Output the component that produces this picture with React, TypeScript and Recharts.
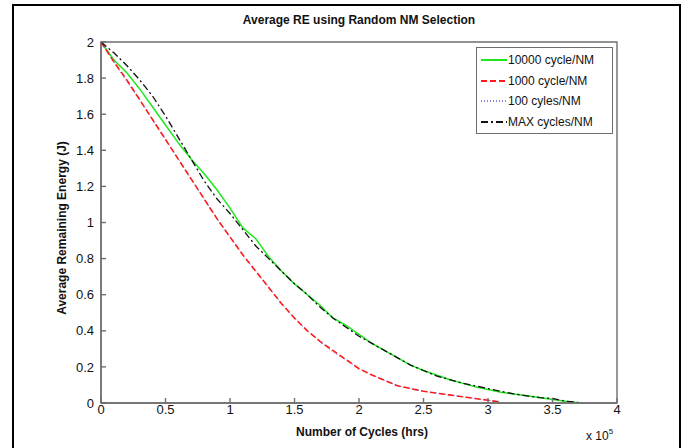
import { LineChart, Line, XAxis, YAxis, Legend, ReferenceArea } from 'recharts';

// cycles in units of 1e5
const cycles = [
  0, 0.1, 0.2, 0.3, 0.4, 0.5, 0.6, 0.7, 0.8, 0.9, 1.0, 1.1, 1.2, 1.3, 1.4, 1.5, 1.6, 1.7, 1.8, 1.9,
  2.0, 2.1, 2.2, 2.3, 2.4, 2.5, 2.6, 2.7, 2.8, 2.9, 3.0, 3.1, 3.2, 3.3, 3.4, 3.5, 3.6, 3.7,
];

const re10000 = [
  2.0, 1.9, 1.83, 1.74, 1.64, 1.54, 1.44, 1.35, 1.27, 1.18, 1.08, 0.97, 0.91, 0.81, 0.73, 0.66, 0.6, 0.54, 0.47, 0.43,
  0.38, 0.33, 0.29, 0.25, 0.21, 0.18, 0.155, 0.13, 0.11, 0.09, 0.075, 0.06, 0.05, 0.04, 0.03, 0.02, 0.01, 0.002,
];

const re1000 = [
  2.0, 1.89, 1.79, 1.68, 1.57, 1.46, 1.35, 1.24, 1.13, 1.02, 0.92, 0.82, 0.73, 0.64, 0.55, 0.47, 0.4, 0.34, 0.29, 0.24,
  0.19, 0.155, 0.125, 0.095, 0.08, 0.065, 0.055, 0.045, 0.035, 0.025, 0.015, 0.005,
];

const re100 = [
  2.0, 1.89, 1.78, 1.68, 1.57, 1.46, 1.35, 1.24, 1.13, 1.02, 0.92, 0.82, 0.73, 0.64, 0.55, 0.47, 0.4, 0.34, 0.28, 0.24,
  0.19, 0.155, 0.125, 0.095, 0.08, 0.065, 0.055, 0.045, 0.035, 0.025, 0.015, 0.005,
];

const reMax = [
  2.0, 1.94, 1.87, 1.79, 1.7, 1.59, 1.47, 1.35, 1.23, 1.13, 1.05, 0.96, 0.87, 0.8, 0.73, 0.66, 0.6, 0.53, 0.47, 0.42,
  0.37, 0.33, 0.29, 0.25, 0.21, 0.18, 0.15, 0.13, 0.11, 0.095, 0.08, 0.065, 0.05, 0.04, 0.03, 0.025, 0.01, 0.003,
];

const xTicks = [0, 0.5, 1, 1.5, 2, 2.5, 3, 3.5, 4];
const yTicks = [0, 0.2, 0.4, 0.6, 0.8, 1, 1.2, 1.4, 1.6, 1.8, 2];

const series = [
  { key: 'g', name: '10000 cycle/NM', color: '#1fe81f', dash: undefined, width: 1.5 },
  { key: 'r', name: '1000 cycle/NM', color: '#ff1a1a', dash: '6 3', width: 1.6 },
  { key: 'b', name: '100 cyles/NM', color: '#5a5ae0', dash: '1 2', width: 1 },
  { key: 'k', name: 'MAX cycles/NM', color: '#111111', dash: '7 3 2 3', width: 1.3 },
];

const data = cycles.map((x, i) => ({
  x,
  g: re10000[i],
  r: re1000[i],
  b: re100[i],
  k: reMax[i],
}));

const font = '"Liberation Sans", Arial, sans-serif';
const axisGrey = '#6e6e6e';

function MatlabLegend() {
  return (
    <div
      style={{
        border: `1px solid ${axisGrey}`,
        background: '#fff',
        padding: '2px 4px 1px 3px',
        fontFamily: font,
        fontSize: 12,
        color: '#111',
      }}
    >
      {series.map((s) => (
        <div key={s.key} style={{ display: 'flex', alignItems: 'center', height: 20.5 }}>
          <svg width={27} height={6}>
            <line x1={1} y1={3} x2={27} y2={3} stroke={s.color} strokeWidth={s.width + 0.5} strokeDasharray={s.dash} />
          </svg>
          <span style={{ marginLeft: 1, whiteSpace: 'nowrap' }}>{s.name}</span>
        </div>
      ))}
    </div>
  );
}

export default function App() {
  const tickStyle = { fontSize: 13, fill: '#111', fontFamily: font };
  const lineStyle = { stroke: axisGrey, strokeWidth: 1.4 };
  return (
    <div
      style={{
        position: 'absolute',
        left: 0,
        top: 0,
        width: 688,
        height: 448,
        overflow: 'hidden',
        background: '#fff',
        fontFamily: font,
      }}
    >
      <div
        style={{
          position: 'absolute',
          left: 12,
          top: 4,
          width: 665,
          height: 470,
          borderTop: '2px solid #000',
          borderLeft: '2px solid #000',
          borderRight: '2px solid #000',
        }}
      />
      <div style={{ position: 'absolute', left: 0, top: 0 }}>
        <LineChart width={688} height={448} data={data} margin={{ top: 42, right: 71, bottom: 0, left: 0 }}>
          <XAxis
            dataKey="x"
            type="number"
            domain={[0, 4]}
            ticks={xTicks}
            height={45}
            axisLine={lineStyle}
            tickLine={lineStyle}
            tickSize={-5}
            tickMargin={7}
            tick={tickStyle}
          />
          <XAxis
            xAxisId="top"
            orientation="top"
            dataKey="x"
            type="number"
            domain={[0, 4]}
            ticks={xTicks}
            height={0}
            axisLine={lineStyle}
            tickLine={lineStyle}
            tickSize={-5}
            tick={tickStyle}
            tickFormatter={() => ''}
          />
          <YAxis
            type="number"
            domain={[0, 2]}
            ticks={yTicks}
            width={101}
            axisLine={lineStyle}
            tickLine={lineStyle}
            tickSize={-5}
            tickMargin={12}
            tick={tickStyle}
          />
          <YAxis
            yAxisId="right"
            orientation="right"
            type="number"
            domain={[0, 2]}
            ticks={yTicks}
            width={0}
            axisLine={lineStyle}
            tickLine={lineStyle}
            tickSize={-5}
            tick={tickStyle}
            tickFormatter={() => ''}
          />
          <ReferenceArea
            x1={xTicks[0]}
            x2={xTicks[xTicks.length - 1]}
            y1={yTicks[0]}
            y2={yTicks[yTicks.length - 1]}
            fill="none"
            stroke={axisGrey}
            strokeWidth={1.4}
            ifOverflow="visible"
          />
          <Legend
            layout="vertical"
            align="center"
            verticalAlign="middle"
            wrapperStyle={{ left: 476, top: 47, width: 137 }}
            content={() => <MatlabLegend />}
          />
          <Line type="linear" dataKey="g" name={series[0].name} stroke={series[0].color} strokeWidth={series[0].width} dot={false} isAnimationActive={false} />
          <Line type="linear" dataKey="b" name={series[2].name} stroke={series[2].color} strokeWidth={series[2].width} strokeDasharray={series[2].dash} dot={false} isAnimationActive={false} />
          <Line type="linear" dataKey="r" name={series[1].name} stroke={series[1].color} strokeWidth={series[1].width} strokeDasharray={series[1].dash} dot={false} isAnimationActive={false} />
          <Line
            type="linear"
            dataKey="k"
            xAxisId="top"
            yAxisId="right"
            name={series[3].name}
            stroke={series[3].color}
            strokeWidth={series[3].width}
            strokeDasharray={series[3].dash}
            dot={false}
            isAnimationActive={false}
          />
        </LineChart>
      </div>
      <div
        style={{
          position: 'absolute',
          left: 359,
          top: 20,
          transform: 'translate(-50%, -50%)',
          fontSize: 12,
          fontWeight: 'bold',
          whiteSpace: 'nowrap',
          color: '#111',
        }}
      >
        Average RE using Random NM Selection
      </div>
      <div
        style={{
          position: 'absolute',
          left: 362,
          top: 432,
          transform: 'translate(-50%, -50%)',
          fontSize: 12,
          fontWeight: 'bold',
          whiteSpace: 'nowrap',
          color: '#111',
        }}
      >
        Number of Cycles (hrs)
      </div>
      <div
        style={{
          position: 'absolute',
          left: 62,
          top: 228,
          transform: 'translate(-50%, -50%) rotate(-90deg)',
          fontSize: 12,
          fontWeight: 'bold',
          whiteSpace: 'nowrap',
          color: '#111',
          lineHeight: '12px',
        }}
      >
        Average Remaining Energy (J)
      </div>
      <div
        style={{
          position: 'absolute',
          left: 586,
          top: 427,
          fontSize: 12,
          whiteSpace: 'nowrap',
          color: '#111',
        }}
      >
        x 10<sup style={{ fontSize: 8, verticalAlign: 6 }}>5</sup>
      </div>
    </div>
  );
}
